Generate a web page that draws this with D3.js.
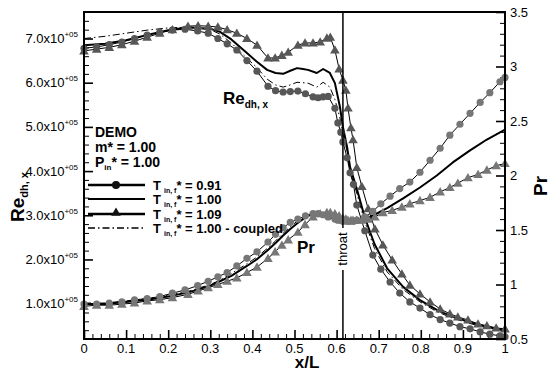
<!DOCTYPE html>
<html>
<head>
<meta charset="utf-8">
<script src="https://cdn.jsdelivr.net/npm/d3@7"></script>
<style>
body { margin: 0; background: #fff; }
svg { font-family: Arial, "Liberation Sans", sans-serif; }
</style>
</head>
<body>
<svg id="chart" width="550" height="374"></svg>
<script>
// ---- data (Re in units of 1e5, Pr on right axis) ----
var xCirc = [0, 0.03, 0.06, 0.09, 0.12, 0.15, 0.18, 0.21, 0.24, 0.27,
    0.295, 0.318, 0.34, 0.363, 0.387, 0.411, 0.437, 0.455, 0.473, 0.49,
    0.508, 0.526, 0.544, 0.556, 0.568, 0.58, 0.596, 0.603, 0.61, 0.615,
    0.625, 0.632, 0.64, 0.648, 0.667, 0.686, 0.705, 0.727, 0.75, 0.774,
    0.798, 0.822, 0.846, 0.869, 0.893, 0.917, 0.941, 0.964, 0.988, 1.0];
var reCirc = [6.78, 6.81, 6.86, 6.92, 7.00, 7.08, 7.14, 7.19, 7.21, 7.17,
    7.12, 7.00, 6.88, 6.74, 6.50, 6.26, 5.92, 5.82, 5.79, 5.80,
    5.81, 5.75, 5.68, 5.66, 5.68, 5.69, 5.42, 5.09, 4.88, 4.66,
    4.30, 3.96, 3.70, 3.23, 2.65, 2.10, 1.78, 1.49, 1.24, 1.04,
    0.90, 0.75, 0.64, 0.56, 0.48, 0.43, 0.36, 0.31, 0.27, 0.25];
var prCirc = [0.82, 0.82, 0.83, 0.84, 0.86, 0.87, 0.89, 0.92, 0.95, 0.99,
    1.03, 1.07, 1.11, 1.17, 1.24, 1.30, 1.39, 1.46, 1.52, 1.57,
    1.60, 1.63, 1.65, 1.65, 1.64, 1.62, 1.60, 1.59, 1.59, 1.58,
    1.58, 1.58, 1.58, 1.59, 1.62, 1.67, 1.74, 1.81, 1.88, 1.94,
    2.03, 2.14, 2.25, 2.37, 2.47, 2.57, 2.67, 2.76, 2.86, 2.90];

var xTri = [0, 0.03, 0.06, 0.09, 0.12, 0.15, 0.18, 0.21, 0.247, 0.271,
    0.295, 0.318, 0.34, 0.363, 0.387, 0.411, 0.437, 0.454, 0.47, 0.485,
    0.508, 0.525, 0.544, 0.561, 0.577, 0.585, 0.596, 0.606, 0.615, 0.622,
    0.627, 0.634, 0.639, 0.648, 0.66, 0.675, 0.691, 0.71, 0.732, 0.755,
    0.774, 0.798, 0.822, 0.846, 0.869, 0.888, 0.912, 0.936, 0.957, 0.979, 1.0];
var reTri = [6.72, 6.76, 6.80, 6.86, 6.94, 7.03, 7.12, 7.20, 7.28, 7.29,
    7.28, 7.26, 7.20, 7.12, 7.00, 6.85, 6.56, 6.56, 6.62, 6.69,
    6.85, 6.90, 6.90, 6.92, 7.01, 7.03, 6.74, 6.31, 6.06, 5.83,
    5.43, 4.98, 4.71, 4.08, 3.65, 3.15, 2.69, 2.33, 1.99, 1.67,
    1.42, 1.22, 1.04, 0.88, 0.77, 0.70, 0.63, 0.54, 0.50, 0.45, 0.43];
var prTri = [0.80, 0.81, 0.81, 0.82, 0.83, 0.85, 0.86, 0.88, 0.91, 0.94,
    0.97, 1.00, 1.03, 1.06, 1.11, 1.16, 1.24, 1.30, 1.36, 1.41,
    1.48, 1.55, 1.62, 1.65, 1.66, 1.66, 1.65, 1.63, 1.61, 1.60,
    1.59, 1.59, 1.59, 1.59, 1.59, 1.60, 1.62, 1.66, 1.68, 1.71,
    1.74, 1.77, 1.80, 1.85, 1.89, 1.93, 1.98, 2.01, 2.05, 2.09, 2.11];

var xSolid = [0, 0.05, 0.1, 0.15, 0.2, 0.25, 0.3, 0.323, 0.35, 0.387,
    0.41, 0.435, 0.455, 0.473, 0.49, 0.506, 0.52, 0.532, 0.553, 0.568,
    0.584, 0.596, 0.608, 0.615, 0.625, 0.632, 0.648, 0.667, 0.69, 0.72,
    0.758, 0.798, 0.838, 0.876, 0.917, 0.957, 1.0];
var reSolid = [6.85, 6.88, 6.96, 7.08, 7.19, 7.25, 7.22, 7.15, 6.98, 6.67,
    6.48, 6.29, 6.22, 6.20, 6.27, 6.33, 6.31, 6.29, 6.22, 6.31,
    6.22, 5.99, 5.45, 5.00, 4.54, 4.09, 3.60, 2.95, 2.35, 1.80,
    1.38, 1.08, 0.86, 0.70, 0.58, 0.47, 0.40];
var prSolid = [0.82, 0.82, 0.84, 0.86, 0.89, 0.93, 0.99, 1.03, 1.08, 1.17,
    1.23, 1.31, 1.38, 1.45, 1.51, 1.56, 1.60, 1.63, 1.65, 1.64,
    1.62, 1.60, 1.59, 1.58, 1.58, 1.58, 1.58, 1.60, 1.64, 1.70,
    1.79, 1.89, 2.00, 2.12, 2.23, 2.33, 2.42];
var reCoupled = [7.00, 7.05, 7.12, 7.19, 7.24, 7.26, 7.20, 7.10, 6.90, 6.55,
    6.35, 6.08, 5.95, 5.90, 5.95, 6.01, 6.00, 5.99, 5.90, 6.01,
    5.90, 5.62, 5.20, 4.85, 4.45, 4.00, 3.50, 2.85, 2.25, 1.72,
    1.32, 1.04, 0.82, 0.67, 0.55, 0.45, 0.38];
var prCoupled = [0.83, 0.83, 0.85, 0.87, 0.90, 0.94, 1.00, 1.04, 1.10, 1.19,
    1.25, 1.33, 1.40, 1.47, 1.53, 1.58, 1.61, 1.64, 1.65, 1.64,
    1.62, 1.60, 1.59, 1.58, 1.58, 1.58, 1.58, 1.60, 1.64, 1.70,
    1.79, 1.89, 2.00, 2.12, 2.23, 2.33, 2.42];

var xTicks = [0, 0.1, 0.2, 0.3, 0.4, 0.5, 0.6, 0.7, 0.8, 0.9, 1];
var xTickLabels = ['0', '0.1', '0.2', '0.3', '0.4', '0.5', '0.6', '0.7', '0.8', '0.9', '1'];
var reTicks = [1, 2, 3, 4, 5, 6, 7];
var reTickLabels = ['1.0x10', '2.0x10', '3.0x10', '4.0x10', '5.0x10', '6.0x10', '7.0x10'];
var prTicks = [0.5, 1, 1.5, 2, 2.5, 3, 3.5];
var prTickLabels = ['0.5', '1', '1.5', '2', '2.5', '3', '3.5'];
var throatX = 0.615;
var legendValues = ['0.91', '1.00', '1.09', '1.00 - coupled'];

// ---- scales ----
var svg = d3.select('#chart');
var x = d3.scaleLinear().domain([0, 1]).range([84, 505]);
var yRe = d3.scaleLinear().domain([0.2, 7.6]).range([339, 12]);
var yPr = d3.scaleLinear().domain([0.5, 3.5]).range([339, 12]);

function isMajor(v, step) {
    var r = v / step;
    return Math.abs(r - Math.round(r)) < 1e-6;
}

// minor + major ticks, all pointing inward
var xMinor = d3.range(0, 1.0001, 0.02).filter(function(v) { return !isMajor(v, 0.1); });
var reMinor = d3.range(0.2, 7.6001, 0.2).filter(function(v) { return !isMajor(v, 1); });
var prMinor = d3.range(0.5, 3.5001, 0.1).filter(function(v) { return !isMajor(v, 0.5); });

function drawAxis(axis, tx, ty, width) {
    var g = svg.append('g').attr('transform', 'translate(' + tx + ',' + ty + ')').call(axis);
    g.select('.domain').remove();
    g.selectAll('line').attr('stroke', '#000').attr('stroke-width', width);
    g.selectAll('text').remove();
}

drawAxis(d3.axisBottom(x).tickValues(xMinor).tickSize(-5), 0, 339, 1);
drawAxis(d3.axisBottom(x).tickValues(xTicks).tickSize(-9), 0, 339, 1.6);
drawAxis(d3.axisLeft(yRe).tickValues(reMinor).tickSize(-5), 84, 0, 1);
drawAxis(d3.axisLeft(yRe).tickValues(reTicks).tickSize(-9), 84, 0, 1.6);
drawAxis(d3.axisRight(yPr).tickValues(prMinor).tickSize(-5), 505, 0, 1);
drawAxis(d3.axisRight(yPr).tickValues(prTicks).tickSize(-9), 505, 0, 1.6);

// tick labels
svg.append('g').selectAll('text').data(xTicks).enter().append('text')
    .attr('x', function(d) { return x(d); })
    .attr('y', 353)
    .attr('text-anchor', 'middle')
    .attr('font-size', 13)
    .text(function(d, i) { return xTickLabels[i]; });

var reLab = svg.append('g').selectAll('text').data(reTicks).enter().append('text')
    .attr('x', 78)
    .attr('y', function(d) { return yRe(d) + 4.5; })
    .attr('text-anchor', 'end')
    .attr('font-size', 13);
reLab.append('tspan').text(function(d, i) { return reTickLabels[i]; });
reLab.append('tspan').attr('font-size', 8).attr('dy', -6).text('+05');

svg.append('g').selectAll('text').data(prTicks).enter().append('text')
    .attr('x', 510)
    .attr('y', function(d) { return yPr(d) + 4.5; })
    .attr('font-size', 13)
    .text(function(d, i) { return prTickLabels[i]; });

// axis titles
svg.append('text').attr('x', 307).attr('y', 368).attr('text-anchor', 'middle')
    .attr('font-size', 17).attr('font-weight', 'bold').text('x/L');

var reTitle = svg.append('text')
    .attr('transform', 'translate(24,197) rotate(-90)')
    .attr('text-anchor', 'middle')
    .attr('font-size', 19).attr('font-weight', 'bold');
reTitle.append('tspan').text('Re');
reTitle.append('tspan').attr('font-size', 11).attr('dy', 4).text('dh, x');

svg.append('text')
    .attr('transform', 'translate(547,186) rotate(-90)')
    .attr('text-anchor', 'middle')
    .attr('font-size', 19).attr('font-weight', 'bold').text('Pr');

// ---- curves ----
function pts(xs, ys) {
    return xs.map(function(v, i) { return [v, ys[i]]; });
}

var lineRe = d3.line().x(function(d) { return x(d[0]); }).y(function(d) { return yRe(d[1]); });
var linePr = d3.line().x(function(d) { return x(d[0]); }).y(function(d) { return yPr(d[1]); });

var plot = svg.append('g');

function drawLine(path, width, dash) {
    plot.append('path')
        .attr('d', path)
        .attr('fill', 'none')
        .attr('stroke', '#000')
        .attr('stroke-width', width)
        .attr('stroke-dasharray', dash || null)
        .attr('stroke-linejoin', 'round');
}

var dashDot = '7,3,1.5,3';

// Re curves
drawLine(lineRe(pts(xSolid, reCoupled)), 1, dashDot);
drawLine(lineRe(pts(xSolid, reSolid)), 2);
drawLine(lineRe(pts(xCirc, reCirc)), 1);
drawLine(lineRe(pts(xTri, reTri)), 1);
// Pr curves
drawLine(linePr(pts(xSolid, prCoupled)), 1, dashDot);
drawLine(linePr(pts(xSolid, prSolid)), 2);
drawLine(linePr(pts(xCirc, prCirc)), 1);
drawLine(linePr(pts(xTri, prTri)), 1);

var triSym = d3.symbol().type(d3.symbolTriangle).size(40);

function drawCircles(data, yScale, color) {
    plot.append('g').selectAll('circle').data(data).enter().append('circle')
        .attr('cx', function(d) { return x(d[0]); })
        .attr('cy', function(d) { return yScale(d[1]); })
        .attr('r', 3.6)
        .attr('fill', color);
}

function drawTriangles(data, yScale, color) {
    plot.append('g').selectAll('path').data(data).enter().append('path')
        .attr('d', triSym)
        .attr('transform', function(d) { return 'translate(' + x(d[0]) + ',' + (yScale(d[1]) + 0.8) + ')'; })
        .attr('fill', color);
}

drawCircles(pts(xCirc, reCirc), yRe, '#575757');
drawTriangles(pts(xTri, reTri), yRe, '#575757');
drawCircles(pts(xCirc, prCirc), yPr, '#777');
drawTriangles(pts(xTri, prTri), yPr, '#777');

// throat line
svg.append('line')
    .attr('x1', x(throatX)).attr('x2', x(throatX))
    .attr('y1', 12).attr('y2', 339)
    .attr('stroke', '#000').attr('stroke-width', 1.5);
svg.append('rect')
    .attr('x', x(throatX) - 6).attr('y', 228)
    .attr('width', 12).attr('height', 42)
    .attr('fill', '#fff');
svg.append('text')
    .attr('transform', 'translate(' + (x(throatX) + 4.5) + ',249) rotate(-90)')
    .attr('text-anchor', 'middle')
    .attr('font-size', 13)
    .text('throat');

// frame
svg.append('rect')
    .attr('x', 84).attr('y', 12)
    .attr('width', 421).attr('height', 327)
    .attr('fill', 'none')
    .attr('stroke', '#000').attr('stroke-width', 2);

// inner labels
var reIn = svg.append('text').attr('x', 223).attr('y', 104)
    .attr('font-size', 17).attr('font-weight', 'bold');
reIn.append('tspan').text('Re');
reIn.append('tspan').attr('font-size', 10).attr('dy', 4).text('dh, x');

svg.append('text').attr('x', 297).attr('y', 253)
    .attr('font-size', 17).attr('font-weight', 'bold').text('Pr');

// ---- legend ----
var leg = svg.append('g').attr('font-weight', 'bold');
leg.append('text').attr('x', 95).attr('y', 137).attr('font-size', 14).text('DEMO');
leg.append('text').attr('x', 95).attr('y', 152).attr('font-size', 14).text('m* = 1.00');
var pin = leg.append('text').attr('x', 95).attr('y', 166.5).attr('font-size', 14);
pin.append('tspan').text('P');
pin.append('tspan').attr('font-size', 8).attr('dy', 3).text('in');
pin.append('tspan').attr('dy', -3).text('* = 1.00');

var rowY = [185, 199, 214, 228];
var rowStyle = [
    {w: 2.5, dash: null, mark: 'circle'},
    {w: 1.8, dash: null, mark: null},
    {w: 2.5, dash: null, mark: 'tri'},
    {w: 1.5, dash: dashDot, mark: null}
];

rowY.forEach(function(yy, i) {
    var s = rowStyle[i];
    leg.append('line')
        .attr('x1', 88).attr('x2', 145).attr('y1', yy).attr('y2', yy)
        .attr('stroke', '#000').attr('stroke-width', s.w)
        .attr('stroke-dasharray', s.dash);
    if (s.mark === 'circle') {
        leg.append('circle').attr('cx', 116).attr('cy', yy).attr('r', 4).attr('fill', '#111');
    } else if (s.mark === 'tri') {
        leg.append('path').attr('d', triSym).attr('transform', 'translate(116,' + (yy - 1) + ')').attr('fill', '#111');
    }
    var t = leg.append('text').attr('x', 153).attr('y', yy + 4.5).attr('font-size', 13);
    t.append('tspan').text('T');
    t.append('tspan').attr('font-size', 7).attr('dx', 3).attr('dy', 3).text('in, f');
    t.append('tspan').attr('dy', -3).text('* = ' + legendValues[i]);
});
</script>
</body>
</html>
